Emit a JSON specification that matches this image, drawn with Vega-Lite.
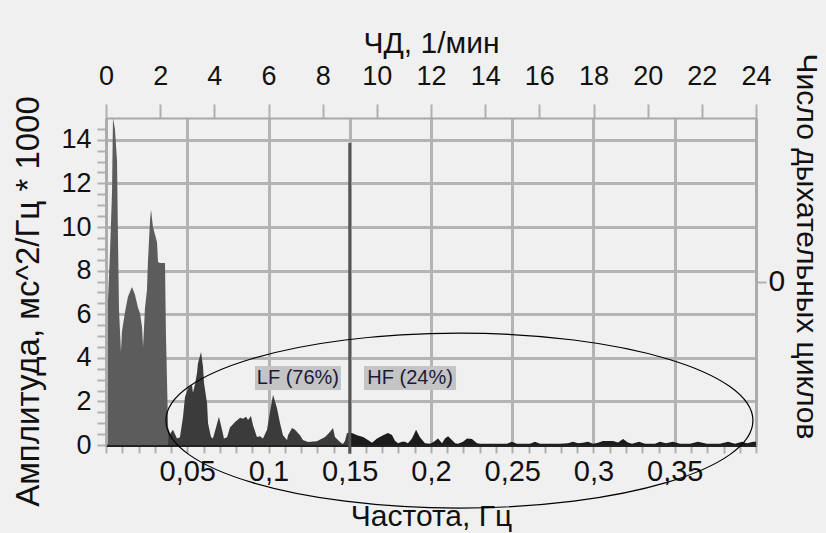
{
  "$schema": "https://vega.github.io/schema/vega-lite/v6.json",
  "width": 650,
  "height": 327,
  "autosize": "none",
  "padding": {"left": 106, "top": 118, "right": 70, "bottom": 88},
  "background": "#f0f0f0",
  "config": {"view": {"stroke": null}},
  "datasets": {
    "spec": [
      {"f": 0.0012, "a": 6.6, "b": "VLF"},
      {"f": 0.0025, "a": 8.9, "b": "VLF"},
      {"f": 0.0037, "a": 11.6, "b": "VLF"},
      {"f": 0.0043, "a": 15.0, "b": "VLF"},
      {"f": 0.0055, "a": 14.5, "b": "VLF"},
      {"f": 0.0068, "a": 13.0, "b": "VLF"},
      {"f": 0.0074, "a": 9.3, "b": "VLF"},
      {"f": 0.0080, "a": 6.2, "b": "VLF"},
      {"f": 0.0092, "a": 4.27, "b": "VLF"},
      {"f": 0.0098, "a": 5.2, "b": "VLF"},
      {"f": 0.0117, "a": 6.1, "b": "VLF"},
      {"f": 0.0135, "a": 6.8, "b": "VLF"},
      {"f": 0.0160, "a": 7.25, "b": "VLF"},
      {"f": 0.0178, "a": 6.9, "b": "VLF"},
      {"f": 0.0197, "a": 6.3, "b": "VLF"},
      {"f": 0.0209, "a": 6.05, "b": "VLF"},
      {"f": 0.0222, "a": 5.4, "b": "VLF"},
      {"f": 0.0228, "a": 4.5, "b": "VLF"},
      {"f": 0.0240, "a": 6.3, "b": "VLF"},
      {"f": 0.0252, "a": 7.1, "b": "VLF"},
      {"f": 0.0258, "a": 8.4, "b": "VLF"},
      {"f": 0.0271, "a": 10.3, "b": "VLF"},
      {"f": 0.0277, "a": 10.8, "b": "VLF"},
      {"f": 0.0289, "a": 10.0, "b": "VLF"},
      {"f": 0.0314, "a": 9.3, "b": "VLF"},
      {"f": 0.0320, "a": 8.4, "b": "VLF"},
      {"f": 0.0332, "a": 8.35, "b": "VLF"},
      {"f": 0.0363, "a": 8.35, "b": "VLF"},
      {"f": 0.0369, "a": 5.0, "b": "VLF"},
      {"f": 0.0375, "a": 3.1, "b": "VLF"},
      {"f": 0.0382, "a": 0.8, "b": "VLF"},
      {"f": 0.0382, "a": 0.8, "b": "LF"},
      {"f": 0.0394, "a": 0.5, "b": "LF"},
      {"f": 0.0412, "a": 0.7, "b": "LF"},
      {"f": 0.0437, "a": 0.3, "b": "LF"},
      {"f": 0.0455, "a": 0.35, "b": "LF"},
      {"f": 0.0474, "a": 1.3, "b": "LF"},
      {"f": 0.0486, "a": 2.2, "b": "LF"},
      {"f": 0.0505, "a": 2.6, "b": "LF"},
      {"f": 0.0529, "a": 2.75, "b": "LF"},
      {"f": 0.0535, "a": 2.4, "b": "LF"},
      {"f": 0.0548, "a": 2.8, "b": "LF"},
      {"f": 0.0560, "a": 3.3, "b": "LF"},
      {"f": 0.0566, "a": 3.75, "b": "LF"},
      {"f": 0.0585, "a": 4.27, "b": "LF"},
      {"f": 0.0597, "a": 3.6, "b": "LF"},
      {"f": 0.0603, "a": 2.85, "b": "LF"},
      {"f": 0.0622, "a": 1.9, "b": "LF"},
      {"f": 0.0628, "a": 1.0, "b": "LF"},
      {"f": 0.0646, "a": 0.37, "b": "LF"},
      {"f": 0.0658, "a": 0.3, "b": "LF"},
      {"f": 0.0677, "a": 0.8, "b": "LF"},
      {"f": 0.0695, "a": 1.3, "b": "LF"},
      {"f": 0.0714, "a": 0.7, "b": "LF"},
      {"f": 0.0726, "a": 0.3, "b": "LF"},
      {"f": 0.0745, "a": 0.35, "b": "LF"},
      {"f": 0.0763, "a": 0.8, "b": "LF"},
      {"f": 0.0794, "a": 1.05, "b": "LF"},
      {"f": 0.0825, "a": 1.25, "b": "LF"},
      {"f": 0.0843, "a": 1.2, "b": "LF"},
      {"f": 0.0862, "a": 1.3, "b": "LF"},
      {"f": 0.0874, "a": 1.15, "b": "LF"},
      {"f": 0.0892, "a": 1.33, "b": "LF"},
      {"f": 0.0905, "a": 0.9, "b": "LF"},
      {"f": 0.0929, "a": 0.37, "b": "LF"},
      {"f": 0.0948, "a": 0.4, "b": "LF"},
      {"f": 0.0966, "a": 0.3, "b": "LF"},
      {"f": 0.0991, "a": 0.7, "b": "LF"},
      {"f": 0.1009, "a": 1.5, "b": "LF"},
      {"f": 0.1028, "a": 2.3, "b": "LF"},
      {"f": 0.1052, "a": 1.7, "b": "LF"},
      {"f": 0.1071, "a": 1.0, "b": "LF"},
      {"f": 0.1089, "a": 0.45, "b": "LF"},
      {"f": 0.1114, "a": 0.23, "b": "LF"},
      {"f": 0.1120, "a": 0.45, "b": "LF"},
      {"f": 0.1145, "a": 0.78, "b": "LF"},
      {"f": 0.1163, "a": 0.7, "b": "LF"},
      {"f": 0.1194, "a": 0.45, "b": "LF"},
      {"f": 0.1212, "a": 0.23, "b": "LF"},
      {"f": 0.1243, "a": 0.14, "b": "LF"},
      {"f": 0.1298, "a": 0.17, "b": "LF"},
      {"f": 0.1348, "a": 0.37, "b": "LF"},
      {"f": 0.1378, "a": 0.6, "b": "LF"},
      {"f": 0.1397, "a": 0.78, "b": "LF"},
      {"f": 0.1409, "a": 0.37, "b": "LF"},
      {"f": 0.1440, "a": 0.14, "b": "LF"},
      {"f": 0.1458, "a": 0.05, "b": "LF"},
      {"f": 0.1471, "a": 0.2, "b": "LF"},
      {"f": 0.1483, "a": 0.55, "b": "LF"},
      {"f": 0.1500, "a": 0.55, "b": "LF"},
      {"f": 0.1500, "a": 0.55, "b": "HF"},
      {"f": 0.1514, "a": 0.55, "b": "HF"},
      {"f": 0.1545, "a": 0.45, "b": "HF"},
      {"f": 0.1582, "a": 0.37, "b": "HF"},
      {"f": 0.1612, "a": 0.23, "b": "HF"},
      {"f": 0.1637, "a": 0.1, "b": "HF"},
      {"f": 0.1668, "a": 0.3, "b": "HF"},
      {"f": 0.1705, "a": 0.45, "b": "HF"},
      {"f": 0.1735, "a": 0.55, "b": "HF"},
      {"f": 0.1760, "a": 0.46, "b": "HF"},
      {"f": 0.1778, "a": 0.2, "b": "HF"},
      {"f": 0.1797, "a": 0.08, "b": "HF"},
      {"f": 0.1822, "a": 0.15, "b": "HF"},
      {"f": 0.1840, "a": 0.15, "b": "HF"},
      {"f": 0.1858, "a": 0.08, "b": "HF"},
      {"f": 0.1883, "a": 0.3, "b": "HF"},
      {"f": 0.1908, "a": 0.7, "b": "HF"},
      {"f": 0.1932, "a": 0.35, "b": "HF"},
      {"f": 0.1963, "a": 0.08, "b": "HF"},
      {"f": 0.1994, "a": 0.06, "b": "HF"},
      {"f": 0.2018, "a": 0.15, "b": "HF"},
      {"f": 0.2043, "a": 0.3, "b": "HF"},
      {"f": 0.2068, "a": 0.08, "b": "HF"},
      {"f": 0.2086, "a": 0.3, "b": "HF"},
      {"f": 0.2105, "a": 0.4, "b": "HF"},
      {"f": 0.2129, "a": 0.23, "b": "HF"},
      {"f": 0.2148, "a": 0.08, "b": "HF"},
      {"f": 0.2166, "a": 0.06, "b": "HF"},
      {"f": 0.2197, "a": 0.15, "b": "HF"},
      {"f": 0.2222, "a": 0.3, "b": "HF"},
      {"f": 0.2252, "a": 0.27, "b": "HF"},
      {"f": 0.2283, "a": 0.08, "b": "HF"},
      {"f": 0.2302, "a": 0.06, "b": "HF"},
      {"f": 0.2425, "a": 0.06, "b": "HF"},
      {"f": 0.2468, "a": 0.06, "b": "HF"},
      {"f": 0.2498, "a": 0.15, "b": "HF"},
      {"f": 0.2529, "a": 0.06, "b": "HF"},
      {"f": 0.2609, "a": 0.06, "b": "HF"},
      {"f": 0.2640, "a": 0.15, "b": "HF"},
      {"f": 0.2671, "a": 0.06, "b": "HF"},
      {"f": 0.2794, "a": 0.06, "b": "HF"},
      {"f": 0.2843, "a": 0.08, "b": "HF"},
      {"f": 0.2874, "a": 0.15, "b": "HF"},
      {"f": 0.2905, "a": 0.08, "b": "HF"},
      {"f": 0.2935, "a": 0.1, "b": "HF"},
      {"f": 0.2966, "a": 0.15, "b": "HF"},
      {"f": 0.2997, "a": 0.06, "b": "HF"},
      {"f": 0.3028, "a": 0.1, "b": "HF"},
      {"f": 0.3058, "a": 0.18, "b": "HF"},
      {"f": 0.3120, "a": 0.18, "b": "HF"},
      {"f": 0.3151, "a": 0.12, "b": "HF"},
      {"f": 0.3182, "a": 0.28, "b": "HF"},
      {"f": 0.3212, "a": 0.12, "b": "HF"},
      {"f": 0.3237, "a": 0.06, "b": "HF"},
      {"f": 0.3280, "a": 0.15, "b": "HF"},
      {"f": 0.3317, "a": 0.06, "b": "HF"},
      {"f": 0.3378, "a": 0.06, "b": "HF"},
      {"f": 0.3409, "a": 0.15, "b": "HF"},
      {"f": 0.3446, "a": 0.08, "b": "HF"},
      {"f": 0.3489, "a": 0.15, "b": "HF"},
      {"f": 0.3532, "a": 0.06, "b": "HF"},
      {"f": 0.3594, "a": 0.06, "b": "HF"},
      {"f": 0.3643, "a": 0.15, "b": "HF"},
      {"f": 0.3698, "a": 0.06, "b": "HF"},
      {"f": 0.3778, "a": 0.06, "b": "HF"},
      {"f": 0.3828, "a": 0.15, "b": "HF"},
      {"f": 0.3871, "a": 0.06, "b": "HF"},
      {"f": 0.3914, "a": 0.15, "b": "HF"},
      {"f": 0.3945, "a": 0.08, "b": "HF"},
      {"f": 0.3982, "a": 0.15, "b": "HF"},
      {"f": 0.4000, "a": 0.15, "b": "HF"}
    ],
    "boxes": [
      {"label": "LF (76%)", "f1": 0.0917, "f2": 0.1446, "a1": 2.52, "a2": 3.62, "fc": 0.1181, "ac": 3.07},
      {"label": "HF (24%)", "f1": 0.1588, "f2": 0.2154, "a1": 2.52, "a2": 3.62, "fc": 0.1871, "ac": 3.07}
    ],
    "divider": [{"f": 0.15, "a": 13.85, "a0": -0.4}],
    "zone": [{"f": 0.2175, "a": 1.12}],
    "aux": [{"chd": 0, "n": 0}]
  },
  "layer": [
    {
      "data": {"name": "spec"},
      "mark": {"type": "area", "interpolate": "linear", "opacity": 1},
      "encoding": {
        "x": {
          "field": "f", "type": "quantitative",
          "scale": {"domain": [0, 0.4], "nice": false, "zero": false},
          "axis": {
            "orient": "bottom",
            "values": [0, 0.01, 0.02, 0.03, 0.04, 0.05, 0.06, 0.07, 0.08, 0.09, 0.1, 0.11, 0.12, 0.13, 0.14, 0.15, 0.16, 0.17, 0.18, 0.19, 0.2, 0.21, 0.22, 0.23, 0.24, 0.25, 0.26, 0.27, 0.28, 0.29, 0.3, 0.31, 0.32, 0.33, 0.34, 0.35, 0.36, 0.37, 0.38, 0.39, 0.4],
            "labelExpr": "(round(datum.value*100) % 5 === 0 && datum.value > 0.001 && datum.value < 0.399) ? replace(format(datum.value, '.2~f'), '.', ',') : ''",
            "labelOverlap": false,
            "labelFlush": false,
            "labelBound": false,
            "labelFont": "Liberation Sans",
            "labelFontSize": 29,
            "labelColor": "#111111",
            "labelPadding": 4,
            "tickSize": 8,
            "tickWidth": 2,
            "tickColor": "#b0b0b0",
            "domainColor": "#222222",
            "domainWidth": 3,
            "grid": true,
            "gridColor": "#b4b4b4",
            "gridWidth": 3,
            "gridOpacity": {"condition": {"test": "round(datum.value*100) % 5 === 0", "value": 1}, "value": 0},
            "title": "Частота, Гц",
            "titleFont": "Liberation Sans",
            "titleFontSize": 30,
            "titleFontWeight": "normal",
            "titleColor": "#111111",
            "titleBaseline": "alphabetic",
            "titleY": 80
          }
        },
        "y": {
          "field": "a", "type": "quantitative", "stack": null,
          "scale": {"domain": [0, 15], "nice": false},
          "axis": {
            "orient": "left",
            "values": [0, 0.5, 1, 1.5, 2, 2.5, 3, 3.5, 4, 4.5, 5, 5.5, 6, 6.5, 7, 7.5, 8, 8.5, 9, 9.5, 10, 10.5, 11, 11.5, 12, 12.5, 13, 13.5, 14, 14.5],
            "labelExpr": "datum.value % 2 === 0 ? format(datum.value, 'd') : ''",
            "labelOverlap": false,
            "labelFont": "Liberation Sans",
            "labelFontSize": 27,
            "labelColor": "#111111",
            "labelPadding": 6,
            "tickSize": 9,
            "tickWidth": 2,
            "tickColor": "#b0b0b0",
            "domainColor": "#a8a8a8",
            "domainWidth": 2,
            "grid": true,
            "gridColor": "#b4b4b4",
            "gridWidth": 3,
            "gridOpacity": {"condition": {"test": "datum.value % 2 === 0 && datum.value > 0", "value": 1}, "value": 0},
            "title": "Амплитуда, мс^2/Гц * 1000",
            "titleFont": "Liberation Sans",
            "titleFontSize": 33,
            "titleFontWeight": "normal",
            "titleColor": "#111111",
            "titleAngle": -90,
            "titleAlign": "center",
            "titleBaseline": "middle",
            "titleX": -78,
            "titleY": 183
          }
        },
        "color": {
          "field": "b", "type": "nominal",
          "scale": {"domain": ["VLF", "LF", "HF"], "range": ["#5c5c5c", "#3b3b3b", "#1c1c1c"]},
          "legend": null
        }
      }
    },
    {
      "data": {"name": "divider"},
      "mark": {"type": "rule", "color": "#555555", "strokeWidth": 3},
      "encoding": {
        "x": {"field": "f", "type": "quantitative", "scale": {"domain": [0, 0.4], "nice": false, "zero": false}, "axis": null},
        "y": {"field": "a", "type": "quantitative", "scale": {"domain": [0, 15], "nice": false}, "axis": null},
        "y2": {"field": "a0"}
      }
    },
    {
      "data": {"name": "boxes"},
      "mark": {"type": "rect", "color": "#c4c4c4"},
      "encoding": {
        "x": {"field": "f1", "type": "quantitative", "scale": {"domain": [0, 0.4], "nice": false, "zero": false}, "axis": null},
        "x2": {"field": "f2"},
        "y": {"field": "a1", "type": "quantitative", "scale": {"domain": [0, 15], "nice": false}, "axis": null},
        "y2": {"field": "a2"}
      }
    },
    {
      "data": {"name": "boxes"},
      "mark": {"type": "text", "font": "Liberation Sans", "fontSize": 20, "color": "#1a1a3a", "align": "center", "baseline": "middle"},
      "encoding": {
        "x": {"field": "fc", "type": "quantitative", "scale": {"domain": [0, 0.4], "nice": false, "zero": false}, "axis": null},
        "y": {"field": "ac", "type": "quantitative", "scale": {"domain": [0, 15], "nice": false}, "axis": null},
        "text": {"field": "label"}
      }
    },
    {
      "data": {"name": "zone"},
      "mark": {
        "type": "point",
        "shape": "M-1,0 C-1,-0.1646 -0.5523,-0.298 0,-0.298 C0.5523,-0.298 1,-0.1646 1,0 C1,0.1646 0.5523,0.298 0,0.298 C-0.5523,0.298 -1,0.1646 -1,0 Z",
        "size": 344569,
        "filled": false,
        "stroke": "#000000",
        "strokeWidth": 1.2,
        "opacity": 1
      },
      "encoding": {
        "x": {"field": "f", "type": "quantitative", "scale": {"domain": [0, 0.4], "nice": false, "zero": false}, "axis": null},
        "y": {"field": "a", "type": "quantitative", "scale": {"domain": [0, 15], "nice": false}, "axis": null}
      }
    },
    {
      "data": {"name": "aux"},
      "mark": {"type": "point", "opacity": 0},
      "encoding": {
        "x": {
          "field": "chd", "type": "quantitative",
          "scale": {"domain": [0, 24], "nice": false, "zero": false},
          "axis": {
            "orient": "top",
            "values": [0, 2, 4, 6, 8, 10, 12, 14, 16, 18, 20, 22, 24],
            "labelOverlap": false,
            "labelFlush": false,
            "labelBound": false,
            "labelFont": "Liberation Sans",
            "labelFontSize": 27,
            "labelColor": "#111111",
            "labelPadding": 14,
            "tickSize": 14,
            "tickWidth": 2,
            "tickColor": "#b0b0b0",
            "domainColor": "#a8a8a8",
            "domainWidth": 2,
            "grid": false,
            "title": "ЧД, 1/мин",
            "titleFont": "Liberation Sans",
            "titleFontSize": 30,
            "titleFontWeight": "normal",
            "titleColor": "#111111",
            "titleBaseline": "alphabetic",
            "titleY": -66
          }
        },
        "y": {
          "field": "n", "type": "quantitative",
          "scale": {"domain": [-1, 1], "nice": false},
          "axis": {
            "orient": "right",
            "values": [0],
            "labelFont": "Liberation Sans",
            "labelFontSize": 30,
            "labelColor": "#111111",
            "labelPadding": 2,
            "tickSize": 10,
            "tickWidth": 2,
            "tickColor": "#b0b0b0",
            "domainColor": "#a8a8a8",
            "domainWidth": 2,
            "grid": false,
            "title": "Число дыхательных циклов",
            "titleFont": "Liberation Sans",
            "titleFontSize": 30,
            "titleFontWeight": "normal",
            "titleColor": "#111111",
            "titleAngle": 90,
            "titleAlign": "center",
            "titleBaseline": "middle",
            "titleX": 49,
            "titleY": 128
          }
        }
      }
    }
  ],
  "resolve": {"scale": {"x": "independent", "y": "independent"}}
}
